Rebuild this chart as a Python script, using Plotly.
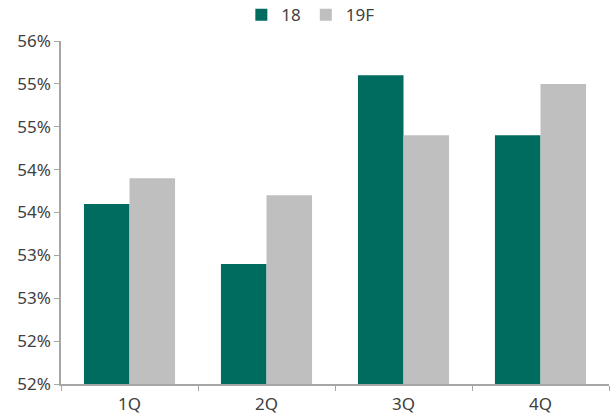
import plotly.graph_objects as go

categories = ["1Q", "2Q", "3Q", "4Q"]
series_18 = [54.1, 53.4, 55.6, 54.9]
series_19f = [54.4, 54.2, 54.9, 55.5]
tick_vals = [52.0, 52.5, 53.0, 53.5, 54.0, 54.5, 55.0, 55.5, 56.0]
tick_text = ["52%", "52%", "53%", "53%", "54%", "54%", "55%", "55%", "56%"]

fig = go.Figure()
fig.add_trace(go.Bar(name="18", x=categories, y=series_18, marker_color="#006B5F",
                     marker_line_width=0))
fig.add_trace(go.Bar(name="19F", x=categories, y=series_19f, marker_color="#BFBFBF",
                     marker_line_width=0))

fig.update_layout(
    width=610, height=414,
    margin=dict(l=61, r=1, t=41, b=30, autoexpand=False),
    barmode="group", bargap=0.335, bargroupgap=0,
    plot_bgcolor="white", paper_bgcolor="white",
    font=dict(family="Noto Sans, Open Sans, sans-serif", size=17, color="#404040"),
    legend=dict(orientation="h", x=0.455, xanchor="center", y=1.075, yanchor="middle",
                font=dict(size=17), traceorder="normal", itemwidth=30,
                tracegroupgap=0),
    showlegend=True,
)
fig.update_xaxes(showline=True, linecolor="#A6A6A6", linewidth=1.5,
                 ticks="outside", tickson="boundaries", ticklen=5,
                 tickcolor="#A6A6A6", showgrid=False, ticklabelstandoff=4)
fig.update_yaxes(range=[52, 56], tickvals=tick_vals, ticktext=tick_text,
                 showline=True, linecolor="#A6A6A6", linewidth=1.5,
                 ticks="outside", ticklen=5, tickcolor="#A6A6A6",
                 showgrid=False, zeroline=False)

fig.write_html("out.html")
